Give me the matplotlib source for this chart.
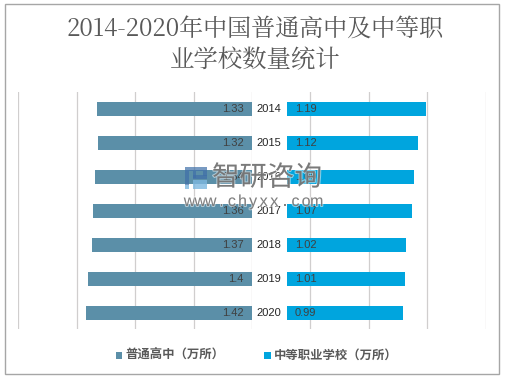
import matplotlib
matplotlib.use("Agg")
import matplotlib.pyplot as plt
import matplotlib.patheffects as pe
from matplotlib.patches import Rectangle

plt.rcParams["font.family"] = ["Noto Sans CJK SC", "DejaVu Sans"]

# Datos
years = ["2014", "2015", "2016", "2017", "2018", "2019", "2020"]
gaozhong = [1.33, 1.32, 1.34, 1.36, 1.37, 1.4, 1.42]
zhongzhi = [1.19, 1.12, 1.09, 1.07, 1.02, 1.01, 0.99]
left_ticks = [0, 0.5, 1, 1.5, 2]
right_ticks = [0.2, 0.7, 1.2, 1.7]

W, H = 505, 377
C_LEFT = "#5B8FA8"
C_RIGHT = "#00A5DE"
C_TEXT = "#404040"
C_GRID = "#D0CECE"
C_MARCA = "#707070"

fig = plt.figure(figsize=(W / 100, H / 100), dpi=100, facecolor="white")


def px_axes(x0, x1, y0, y1):
    # caja en pixeles de la imagen (y hacia abajo)
    return fig.add_axes([x0 / W, 1 - y1 / H, (x1 - x0) / W, (y1 - y0) / H])


def px_rect(x0, y0, w, h, **kw):
    fig.add_artist(Rectangle((x0 / W, 1 - (y0 + h) / H), w / W, h / H, transform=fig.transFigure, **kw))


# borde exterior
px_rect(4.5, 3.5, 494.5, 370.5, fill=False, edgecolor="#A6A6A6", linewidth=1)

ax_l = px_axes(18.4, 252, 92, 329)
ax_r = px_axes(287, 485.7, 92, 329)

ax_l.set_xlim(2, 0)
ax_r.set_xlim(0, 1.7)

pos = list(range(len(years)))
for ax, vals, col in [(ax_l, gaozhong, C_LEFT), (ax_r, zhongzhi, C_RIGHT)]:
    ax.set_ylim(6.47, -0.5)
    ax.patch.set_alpha(0)
    ax.barh(pos, vals, height=0.41, color=col, zorder=2)
    ax.tick_params(left=False, bottom=False, labelleft=False, labelbottom=False)
    for sp in ax.spines.values():
        sp.set_visible(False)

for t in left_ticks:
    ax_l.axvline(t, color=C_GRID, linewidth=0.9, zorder=1)
for t in right_ticks:
    ax_r.axvline(t, color=C_GRID, linewidth=0.9, zorder=1)

# etiquetas de valores
for i, (a, b) in enumerate(zip(gaozhong, zhongzhi)):
    ax_l.annotate(str(a), (0, i), xytext=(-5.8, 0), textcoords="offset points", ha="right", va="center",
                  color=C_TEXT, fontsize=8, fontfamily=["Liberation Sans"], zorder=3)
    ax_r.annotate(str(b), (0, i), xytext=(5.8, 0), textcoords="offset points", ha="left", va="center",
                  color=C_TEXT, fontsize=8, fontfamily=["Liberation Sans"], zorder=3)
    ax_r.annotate(years[i], (0, i), xytext=(-12.8, 0), textcoords="offset points", ha="center", va="center",
                  color="#262626", fontsize=8, fontfamily=["Liberation Sans"], zorder=3)

# titulo
fuente_titulo = ["Noto Serif CJK SC", "Noto Sans CJK SC"]
fig.text(255 / W, 1 - 29 / H, "2014-2020年中国普通高中及中等职", ha="center", va="center",
         fontsize=17.3, color="#595959", fontfamily=fuente_titulo)
fig.text(255 / W, 1 - 60 / H, "业学校数量统计", ha="center", va="center",
         fontsize=17.6, color="#595959", fontfamily=fuente_titulo)

# leyenda
px_rect(115.7, 352, 6.6, 7, color=C_LEFT, linewidth=0)
fig.text(126 / W, 1 - 355.5 / H, "普通高中（万所）", ha="left", va="center", fontsize=8.9,
         color="#595959", fontweight="bold")
px_rect(264, 352, 6.6, 7, color=C_RIGHT, linewidth=0)
fig.text(274 / W, 1 - 355.5 / H, "中等职业学校（万所）", ha="left", va="center", fontsize=8.9,
         color="#595959", fontweight="bold")

# marca de agua: logo
for x0, y0, w, h in [(185, 167, 22, 4), (185, 171, 4, 14), (203, 171, 4, 5), (193, 175, 14, 3.5), (193, 171, 3, 7)]:
    px_rect(x0, y0, w, h, color="#3F6FA8", alpha=0.7, linewidth=0)
px_rect(193, 180, 14, 9, color="#7DB8E0", alpha=0.8, linewidth=0)
px_rect(185, 185, 4, 4, color="#7DB8E0", alpha=0.8, linewidth=0)

# marca de agua: texto
halo = [pe.withStroke(linewidth=1.5, foreground="white", alpha=0.5)]
fig.text(212 / W, 1 - 178 / H, "智研咨询", ha="left", va="center", fontsize=19.8, color=C_MARCA,
         alpha=0.9, path_effects=halo)
for i, c in enumerate("www.chyxx.com"):
    fig.text((189.5 + i * 10.6) / W, 1 - 201.5 / H, c, ha="center", va="center", fontsize=11.5,
             color=C_MARCA, alpha=0.85, fontfamily=["Liberation Sans"], path_effects=halo)

fig.savefig("out.png", dpi=100, facecolor="white")
